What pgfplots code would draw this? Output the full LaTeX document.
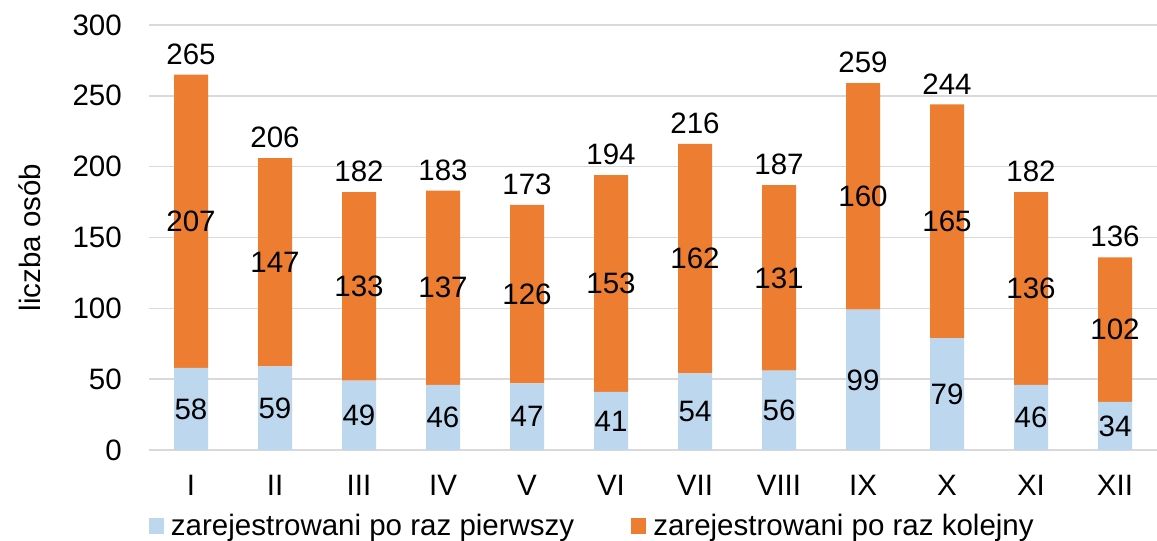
\documentclass[border=0pt]{standalone}
\usepackage{fontspec}
\setmainfont{Liberation Sans}
\usepackage{pgfplots}
\pgfplotsset{compat=1.18}
\definecolor{cblue}{HTML}{BDD7EE}
\definecolor{corange}{HTML}{ED7D31}
\definecolor{cgrid}{HTML}{D9D9D9}
\newcommand{\bigfont}{\fontsize{29.5}{35}\selectfont}
\pgfplotsset{common/.style={
  scale only axis, width=1008pt, height=425pt,
  at={(149pt,91pt)}, anchor=south west,
  xmin=-0.5, xmax=11.5, ymin=0, ymax=300,
  font=\bigfont,
}}
\begin{document}%
\begin{tikzpicture}
\path[use as bounding box] (0,0) rectangle (1157pt,541pt);
\begin{axis}[common, ybar stacked, bar width=34pt,
  axis line style={draw=none}, tick style={draw=none}, major tick length=0pt,
  ymajorgrids, grid style={cgrid, line width=1.5pt},
  ytick={0,50,...,300}, xtick={0,...,11},
  xticklabels={I,II,III,IV,V,VI,VII,VIII,IX,X,XI,XII},
  /pgf/number format/assume math mode=true,
  yticklabel style={anchor=east, inner sep=0pt, xshift=-27pt, font=\bigfont},
  xticklabel style={anchor=north, inner sep=0pt, yshift=-25pt, font=\bigfont},
  ylabel={liczba osób},
  every axis y label/.style={at={(axis description cs:0,0.5)}, xshift=-119pt, rotate=90, anchor=center, font=\bigfont},
  legend image code/.code={\fill[#1, draw=none] (0pt,-8pt) rectangle (15pt,8pt);},
  legend style={draw=none, fill=none, at={(0,-0.1788)}, anchor=west,
    inner sep=0pt, outer sep=0pt, font=\bigfont,
    nodes={inner sep=0pt},
    /tikz/every odd column/.append style={column sep=7pt},
    /tikz/every even column/.append style={column sep=57pt}},
  legend columns=2,
  legend cell align=left,
]
\addplot[fill=cblue, draw=none] coordinates {
(0,58) (1,59) (2,49) (3,46) (4,47) (5,41) (6,54) (7,56) (8,99) (9,79) (10,46) (11,34)};
\addlegendentry{zarejestrowani po raz pierwszy}
\addplot[fill=corange, draw=none] coordinates {
(0,207) (1,147) (2,133) (3,137) (4,126) (5,153) (6,162) (7,131) (8,160) (9,165) (10,136) (11,102)};
\addlegendentry{zarejestrowani po raz kolejny}
\end{axis}
\begin{axis}[common, hide axis, clip=false,
  nodes near coords, point meta=explicit symbolic,
  every node near coord/.append style={font=\bigfont, inner sep=0pt, text=black},
]
% first-series labels, centred in the blue segments
\addplot[only marks, mark options={draw=none, fill=none},
  every node near coord/.append style={anchor=center}] coordinates {
(0,29) [58] (1,29.5) [59] (2,24.5) [49] (3,23) [46] (4,23.5) [47] (5,20.5) [41]
(6,27) [54] (7,28) [56] (8,49.5) [99] (9,39.5) [79] (10,23) [46] (11,17) [34]};
% second-series labels, centred in the orange segments
\addplot[only marks, mark options={draw=none, fill=none},
  every node near coord/.append style={anchor=center}] coordinates {
(0,161.5) [207] (1,132.5) [147] (2,115.5) [133] (3,114.5) [137] (4,110) [126] (5,117.5) [153]
(6,135) [162] (7,121.5) [131] (8,179) [160] (9,161.5) [165] (10,114) [136] (11,85) [102]};
% totals above the bars
\addplot[only marks, mark options={draw=none, fill=none},
  every node near coord/.append style={anchor=south, yshift=10pt}] coordinates {
(0,265) [265] (1,206) [206] (2,182) [182] (3,183) [183] (4,173) [173] (5,194) [194]
(6,216) [216] (7,187) [187] (8,259) [259] (9,244) [244] (10,182) [182] (11,136) [136]};
\end{axis}
\end{tikzpicture}%
\end{document}
